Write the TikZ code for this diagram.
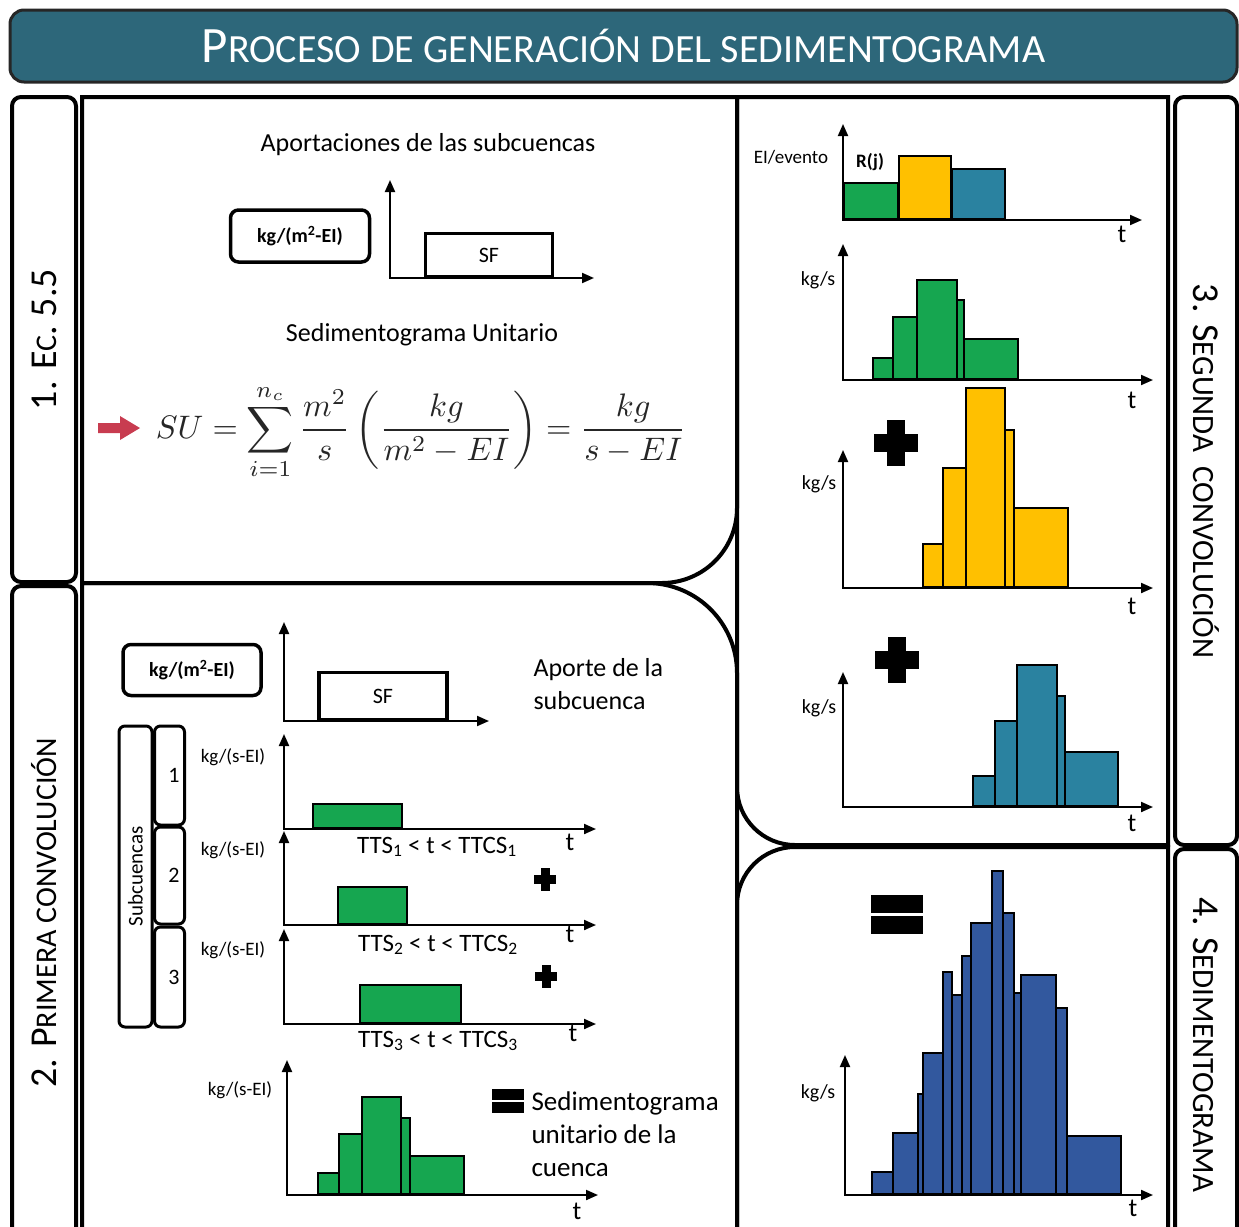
\documentclass[tikz,border=0pt]{standalone}
\usepackage{fontspec}
\setmainfont{Carlito}
\usepackage{graphicx}
\usepackage{tikz}
\usetikzlibrary{arrows.meta, positioning}
\definecolor{sedgreen}{RGB}{22,166,80}
\definecolor{sedyellow}{RGB}{255,192,0}
\definecolor{sedteal}{RGB}{42,130,160}
\definecolor{sedblue}{RGB}{50,88,158}
\definecolor{sedred}{RGB}{200,60,80}
\definecolor{titleteal}{RGB}{45,103,122}
\tikzset{
  titlebar/.style={rectangle, rounded corners=14pt, draw=black!85, line width=3pt,
    fill=titleteal, text=white, minimum width=1227pt, minimum height=72pt,
    font=\fontsize{51}{51}\selectfont},
  tab/.style={rectangle, rounded corners=9pt, draw, line width=4pt,
    font=\fontsize{38}{38}\selectfont},
  panel/.style={draw, line width=4pt},
  unitbox/.style={rectangle, rounded corners=8pt, draw, line width=3.5pt,
    font=\bfseries\fontsize{20}{20}\selectfont},
  sfbox/.style={rectangle, draw, line width=3.5pt, fill=white,
    font=\fontsize{22}{22}\selectfont},
  subbox/.style={rectangle, rounded corners=6pt, draw, line width=3pt,
    font=\fontsize{22}{22}\selectfont},
  heading/.style={font=\fontsize{26}{33}\selectfont, align=left},
  unitlabel/.style={font=\fontsize{19}{19}\selectfont},
  ttslabel/.style={font=\fontsize{25}{25}\selectfont},
  tlabel/.style={font=\fontsize{26}{26}\selectfont},
  axes/.style={{Triangle[length=12pt,width=10pt]}-{Triangle[length=12pt,width=10pt]}, line width=2pt},
  bar/.style={draw, line width=1.5pt},
  plusmark/.pic={\fill (-22,-9) rectangle (22,9); \fill (-9,-23) rectangle (9,23);},
  equalmark/.pic={\fill (-26,-19.5) rectangle (26,-1.5); \fill (-26,1.5) rectangle (26,19.5);}
}
\newcommand{\scup}[2]{{\fontsize{#1}{#1}\selectfont\MakeUppercase{#2}}}

\begin{document}
\begin{tikzpicture}[x=1pt, y=-1pt]
  \useasboundingbox (0,0) rectangle (1239,1226);
  \node[titlebar] (title) at (623.5,46) {P\scup{40}{roceso de generación del sedimentograma}};

  \node[tab, rotate=90, minimum width=485pt, minimum height=64pt] (ecuacion) at (44,339.5) {1. E\scup{30}{c}. 5.5};
  \node[tab, rotate=90, minimum width=654pt, minimum height=64pt] (primera) at (44,913) {2. P\scup{30}{rimera convolución}};
  \node[tab, rotate=-90, minimum width=748pt, minimum height=62pt] (segunda) at (1206,471) {3. S\scup{31}{egunda\ \ convolución}};
  \node[tab, rotate=-90, minimum width=391pt, minimum height=62pt] (sedimento) at (1206,1044.5) {4. S\scup{31}{edimentograma}};

  \draw[panel] (82,97) -- (737,97) -- (737,508) arc[start angle=0, end angle=90, radius=75] -- (82,583) -- cycle;
  \draw[panel] (82,1240) -- (82,583) -- (647,583) arc[start angle=-90, end angle=0, radius=90] -- (737,1240);
  \draw[panel] (737,97) -- (1168,97) -- (1168,845) -- (795,845) arc[start angle=90, end angle=180, radius=58] -- cycle;
  \draw[panel] (737,1240) -- (737,905) arc[start angle=180, end angle=270, radius=58] -- (1168,847) -- (1168,1240);

  \node[heading] (aportaciones) at (428,145) {Aportaciones de las subcuencas};
  \node[unitbox, minimum width=139pt, minimum height=52pt] (unitone) at (300,236) {kg/(m\textsuperscript{2}-EI)};
  \draw[axes] (390,180) -- (390,278) -- (594,278);
  \node[sfbox, minimum width=127pt, minimum height=43pt] (sfone) at (489,255) {SF};
  \node[heading] (unitario) at (422,335) {Sedimentograma Unitario};
  \fill[sedred] (98,423) -- (120,423) -- (120,416) -- (140,428) -- (120,440) -- (120,433) -- (98,433) -- cycle;
  \node[text=black!85] (formula) at (421,432) {\resizebox{530pt}{!}{$\displaystyle SU = \sum_{i=1}^{n_c}\frac{m^2}{s}\left(\frac{kg}{m^2-EI}\right)=\frac{kg}{s-EI}$}};

  \node[unitbox, minimum width=138pt, minimum height=51pt] (unittwo) at (192,670) {kg/(m\textsuperscript{2}-EI)};
  \draw[axes] (284,622) -- (284,721) -- (489,721);
  \node[sfbox, minimum width=128pt, minimum height=47pt] (sftwo) at (383,696) {SF};
  \node[heading, anchor=west] (aporte) at (530,684) {Aporte de la\\subcuenca};
  \node[subbox, rotate=90, minimum width=301pt, minimum height=33pt, font=\fontsize{21}{21}\selectfont] (subcuencas) at (135.5,876.5) {Subcuencas};
  \node[subbox, minimum width=30pt, minimum height=99pt, text width=20pt, align=right] (subone) at (169.5,775.5) {1};
  \node[subbox, minimum width=30pt, minimum height=97pt, text width=20pt, align=right] (subtwo) at (169.5,875.5) {2};
  \node[subbox, minimum width=30pt, minimum height=100pt, text width=20pt, align=right] (subthree) at (169.5,977) {3};

  \draw[axes] (284,734) -- (284,829) -- (596,829);
  \draw[bar, fill=sedgreen] (313,804) rectangle (402,828);
  \node[unitlabel] (kgone) at (233,757) {kg/(s-EI)};
  \node[ttslabel] (ttsone) at (437,847) {TTS\textsubscript{1} < t < TTCS\textsubscript{1}};
  \node[tlabel] (tone) at (570,842) {t};

  \draw[axes] (284,831) -- (284,925) -- (596,925);
  \draw[bar, fill=sedgreen] (338,887) rectangle (407,924);
  \node[unitlabel] (kgtwo) at (233,850) {kg/(s-EI)};
  \node[ttslabel] (ttstwo) at (438,945) {TTS\textsubscript{2} < t < TTCS\textsubscript{2}};
  \node[tlabel] (ttwo) at (570,934) {t};
  \pic[scale=0.5] (plusone) at (545,879) {plusmark};

  \draw[axes] (284,929) -- (284,1024) -- (596,1024);
  \draw[bar, fill=sedgreen] (360,985) rectangle (461,1023);
  \node[unitlabel] (kgthree) at (233,950) {kg/(s-EI)};
  \node[ttslabel] (ttsthree) at (438,1041) {TTS\textsubscript{3} < t < TTCS\textsubscript{3}};
  \node[tlabel] (tthree) at (573,1033) {t};
  \pic[scale=0.5] (plustwo) at (546,976) {plusmark};

  \draw[axes] (287,1060) -- (287,1195) -- (598,1195);
  \foreach \xa/\xb/\yt in {318/339/1173, 339/362/1134, 362/401/1097, 401/410/1118, 410/464/1156}
    \draw[bar, fill=sedgreen] (\xa,\yt) rectangle (\xb,1194);
  \node[unitlabel] (kgfour) at (240,1090) {kg/(s-EI)};
  \pic[scale=0.6] (equalone) at (508,1101) {equalmark};
  \node[heading, anchor=west, font=\fontsize{27}{33}\selectfont] (cuenca) at (528,1134) {Sedimentograma\\unitario de la\\cuenca};
  \node[tlabel] (tfour) at (577,1211) {t};

  \draw[axes] (843,124) -- (843,220) -- (1142,220);
  \draw[bar, fill=sedgreen] (844,183) rectangle (898,219);
  \draw[bar, fill=sedyellow] (899,156) rectangle (951,219);
  \draw[bar, fill=sedteal] (952,169) rectangle (1005,219);
  \node[unitlabel] (evento) at (791,157) {EI/evento};
  \node[unitlabel, font=\bfseries\fontsize{19}{19}\selectfont] (rj) at (870,162) {R(j)};
  \node[tlabel] (trj) at (1122,234) {t};

  \draw[axes] (843,244) -- (843,380) -- (1153,380);
  \foreach \xa/\xb/\yt in {873/893/358, 893/917/317, 917/957/280, 957/964/300, 964/1018/339}
    \draw[bar, fill=sedgreen] (\xa,\yt) rectangle (\xb,379);
  \node[unitlabel, font=\fontsize{20}{20}\selectfont] (kgsone) at (818,280) {kg/s};
  \node[tlabel] (tgreen) at (1132,400) {t};

  \draw[axes] (843,450) -- (843,588) -- (1153,588);
  \foreach \xa/\xb/\yt in {923/943/544, 943/966/468, 966/1005/388, 1005/1014/430, 1014/1068/508}
    \draw[bar, fill=sedyellow] (\xa,\yt) rectangle (\xb,587);
  \node[unitlabel, font=\fontsize{20}{20}\selectfont] (kgstwo) at (819,484) {kg/s};
  \node[tlabel] (tyellow) at (1132,606) {t};
  \pic (plusthree) at (896,443) {plusmark};

  \draw[axes] (843,672) -- (843,807) -- (1153,807);
  \foreach \xa/\xb/\yt in {973/995/776, 995/1017/721, 1017/1057/665, 1057/1065/696, 1065/1118/752}
    \draw[bar, fill=sedteal] (\xa,\yt) rectangle (\xb,806);
  \node[unitlabel, font=\fontsize{20}{20}\selectfont] (kgsthree) at (819,708) {kg/s};
  \node[tlabel] (tteal) at (1132,823) {t};
  \pic (plusfour) at (897,660) {plusmark};

  \draw[axes] (845,1055) -- (845,1195) -- (1153,1195);
  \foreach \xa/\xb/\yt in {872/893/1172, 893/918/1133, 918/923/1094, 923/943/1053, 943/952/972, 952/962/995, 962/971/956, 971/992/923, 992/1003/871, 1003/1014/913, 1014/1021/993, 1021/1056/975, 1056/1067/1008, 1067/1121/1136}
    \draw[bar, fill=sedblue] (\xa,\yt) rectangle (\xb,1194);
  \node[unitlabel, font=\fontsize{20}{20}\selectfont] (kgsfour) at (818,1093) {kg/s};
  \node[tlabel] (tblue) at (1133,1208) {t};
  \pic (equaltwo) at (897,914) {equalmark};
\end{tikzpicture}
\end{document}
